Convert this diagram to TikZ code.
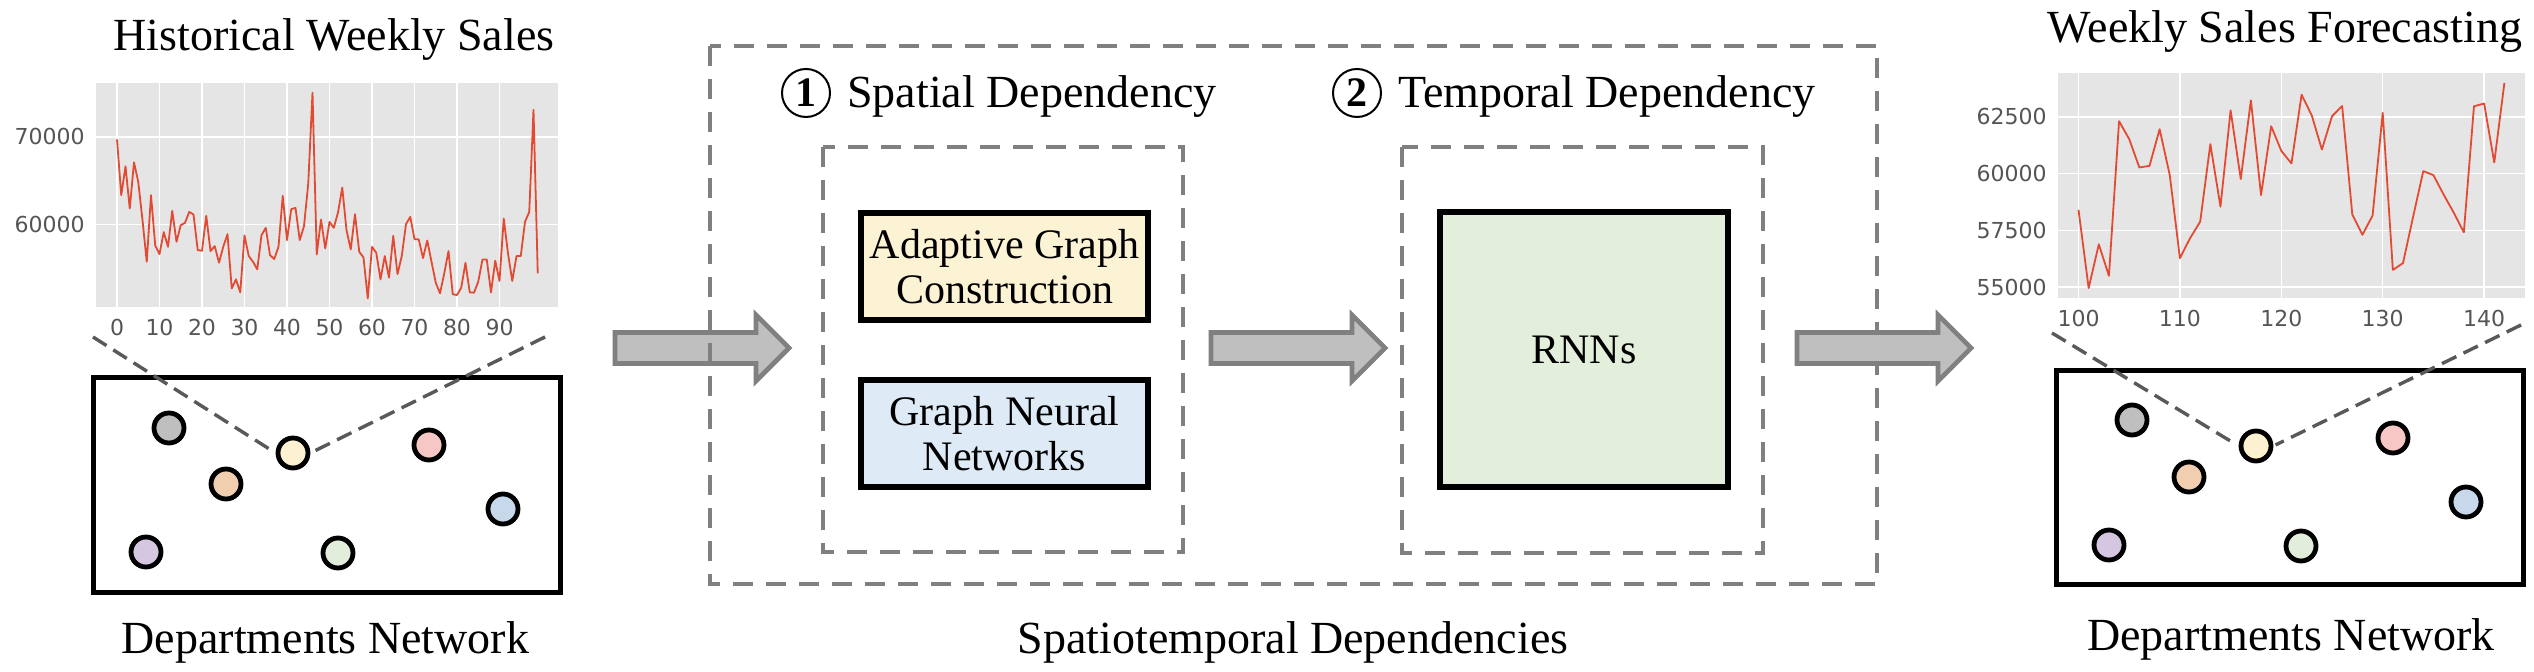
\documentclass[tikz,border=0pt]{standalone}
\usepackage{fontspec}
\setmainfont{Liberation Serif}
\newfontfamily\tickfont{DejaVu Sans}
\usetikzlibrary{positioning}
\definecolor{plotbg}{HTML}{E5E5E5}
\definecolor{salesred}{HTML}{E24A33}
\definecolor{tickgray}{HTML}{555555}
\definecolor{boxgray}{HTML}{808080}
\definecolor{zoomgray}{HTML}{595959}
\definecolor{arrowfill}{HTML}{BFBFBF}
\definecolor{dgray}{HTML}{BFBFBF}
\definecolor{dorange}{HTML}{F2CEB0}
\definecolor{dyellow}{HTML}{FCF2D2}
\definecolor{dred}{HTML}{F6C7C4}
\definecolor{dblue}{HTML}{C8D8EB}
\definecolor{dpurple}{HTML}{D5C7E1}
\definecolor{dgreen}{HTML}{E3EDDB}
\definecolor{agcfill}{HTML}{FCF2D4}
\definecolor{gnnfill}{HTML}{DEEAF5}
\definecolor{rnnfill}{HTML}{E3EFDA}

\begin{document}
\begin{tikzpicture}[x=0.5pt,y=-0.5pt,
   title/.style={font=\fontsize{23}{27}\selectfont,inner sep=0pt},
   tick/.style={font=\tickfont\fontsize{11}{13}\selectfont,text=tickgray,inner sep=0pt},
   grid/.style={white,line width=0.75pt},
   sales/.style={salesred,line width=0.9pt,line join=round},
   dept/.style={circle,draw=black,line width=2.4pt,minimum size=15pt,inner sep=0pt},
   netbox/.style={draw=black,line width=2.5pt},
   zoomline/.style={zoomgray,line width=1.7pt,dash pattern=on 8pt off 4pt,shorten >=1.2pt},
   dashbox/.style={boxgray,line width=2.4pt,dash pattern=on 10pt off 6.5pt},
   block/.style={draw=black,line width=2.8pt,inner sep=0pt,align=center,font=\fontsize{21}{22.5}\selectfont},
   stepnum/.style={circle,draw=black,line width=1pt,minimum size=24pt,inner sep=0pt,font=\fontsize{21}{22}\selectfont\bfseries},
   fatarrow/.pic={\draw[boxgray,fill=arrowfill,line width=2.3pt,line join=miter]
      (1,-15.5) -- (142,-15.5) -- (142,-33) -- (175,0) -- (142,33) -- (142,15.5) -- (1,15.5) -- cycle;}]
   \useasboundingbox (0,0) rectangle (2534,672);

   \node[title,anchor=base] (histtitle) at (334,51) {Historical Weekly Sales};
   \fill[plotbg] (96,83) rectangle (558,307);
   \foreach \k in {0,...,9} \draw[grid] ({117+42.5*\k},83) -- ({117+42.5*\k},307);
   \draw[grid] (96,137) -- (558,137);
   \draw[grid] (96,224.5) -- (558,224.5);
   \begin{scope}[shift={(117,749.5)},xscale=4.25,yscale=-8.75]
      \draw[sales] plot coordinates {(0,69.73) (1,63.35) (2,66.65) (3,61.83) (4,67.10) (5,64.87) (6,60.50) (7,55.74) (8,63.35) (9,57.57) (10,56.62) (11,59.13) (12,57.45) (13,61.56) (14,58.02) (15,59.92) (16,60.19) (17,61.44) (18,61.14) (19,57.07) (20,57.00) (21,60.99) (22,56.96) (23,57.53) (24,55.63) (25,57.45) (26,58.90) (27,52.70) (28,53.73) (29,52.24) (30,58.75) (31,56.39) (32,55.74) (33,54.87) (34,58.78) (35,59.62) (36,56.50) (37,56.05) (38,57.45) (39,63.27) (40,58.21) (41,61.75) (42,61.90) (43,58.21) (44,59.81) (45,64.68) (46,75.06) (47,56.58) (48,60.57) (49,57.26) (50,60.30) (51,59.62) (52,61.37) (53,64.22) (54,59.35) (55,57.15) (56,61.18) (57,56.88) (58,56.24) (59,51.56) (60,57.45) (61,56.77) (62,53.73) (63,56.39) (64,53.92) (65,58.71) (66,54.33) (67,56.39) (68,60.04) (69,60.87) (70,58.33) (71,58.29) (72,56.16) (73,58.17) (74,55.74) (75,53.35) (76,52.13) (77,54.41) (78,56.96) (79,52.02) (80,51.94) (81,52.78) (82,55.63) (83,52.24) (84,52.21) (85,53.46) (86,56.01) (87,56.01) (88,52.24) (89,55.86) (90,53.54) (91,60.68) (92,56.69) (93,53.54) (94,56.39) (95,56.39) (96,60.30) (97,61.44) (98,73.12) (99,54.41)};
   \end{scope}
   \node[tick,anchor=east] (hy70) at (85,137) {70000};
   \node[tick,anchor=east] (hy60) at (85,224.5) {60000};
   \foreach \k in {0,...,9} \node[tick] (hx\k) at ({117+42.5*\k},327.5) {\the\numexpr\k*10\relax};

   \node[netbox,minimum width=233.5pt,minimum height=107.5pt] (histnet) at (326.5,485) {};
   \coordinate (hcornerL) at (93,337);
   \coordinate (hcornerR) at (545,337);
   \node[dept,fill=dyellow] (hyellow) at (293,453) {};
   \node[dept,fill=dgray] (hgray) at (169,428) {};
   \node[dept,fill=dorange] (horange) at (226,484) {};
   \node[dept,fill=dred] (hred) at (429,445) {};
   \node[dept,fill=dblue] (hblue) at (503,509) {};
   \node[dept,fill=dpurple] (hpurple) at (146,552) {};
   \node[dept,fill=dgreen] (hgreen) at (338,553) {};
   \draw[zoomline] (hcornerL) -- (hyellow.west);
   \draw[zoomline] (hcornerR) -- (hyellow.east);
   \node[title,anchor=base] (histlabel) at (325.5,654) {Departments Network};

   \pic at (614,348) {fatarrow};

   \draw[dashbox] (710,46) rectangle (1877,584);
   \node[stepnum] (numA) at (806,93) {1};
   \node[title,anchor=base west] (spatlabel) at (847,108) {Spatial Dependency};
   \node[stepnum] (numB) at (1357,93) {2};
   \node[title,anchor=base west] (templabel) at (1398,108) {Temporal Dependency};
   \draw[dashbox] (823,147) rectangle (1183,552);
   \draw[dashbox] (1402,147) rectangle (1763,553);
   \node[block,fill=agcfill,minimum width=143.5pt,minimum height=53.5pt] (agc) at (1004.5,266.5) {Adaptive Graph\\Construction};
   \node[block,fill=gnnfill,minimum width=143.5pt,minimum height=53.5pt] (gnn) at (1004.5,433.5) {Graph Neural\\Networks};
   \pic at (1210,348) {fatarrow};
   \node[block,fill=rnnfill,minimum width=144pt,minimum height=137.5pt] (rnn) at (1584,349.5) {RNNs};
   \node[title,anchor=base] (stlabel) at (1293,654) {Spatiotemporal Dependencies};

   \pic at (1796,348) {fatarrow};

   \node[title,anchor=base] (predtitle) at (2285,43) {Weekly Sales Forecasting};
   \fill[plotbg] (2058,73) rectangle (2525,298);
   \foreach \k in {0,...,4} \draw[grid] ({2078.5+101.4*\k},73) -- ({2078.5+101.4*\k},298);
   \foreach \k in {0,...,3} \draw[grid] (2058,{117+56.67*\k}) -- (2525,{117+56.67*\k});
   \begin{scope}[shift={(2078.5,1533.8)},xscale=10.14,yscale=-22.67]
      \draw[sales] plot coordinates {(0,58.40) (1,54.95) (2,56.88) (3,55.49) (4,62.31) (5,61.52) (6,60.27) (7,60.34) (8,61.96) (9,59.93) (10,56.27) (11,57.15) (12,57.88) (13,61.30) (14,58.54) (15,62.79) (16,59.76) (17,63.23) (18,59.05) (19,62.09) (20,61.00) (21,60.45) (22,63.48) (23,62.57) (24,61.06) (25,62.53) (26,62.98) (27,58.20) (28,57.30) (29,58.15) (30,62.68) (31,55.75) (32,56.05) (33,58.10) (34,60.11) (35,59.93) (36,59.08) (37,58.28) (38,57.41) (39,62.97) (40,63.09) (41,60.49) (42,64.00)};
   \end{scope}
   \node[tick,anchor=east] (py625) at (2047,117) {62500};
   \node[tick,anchor=east] (py600) at (2047,173.7) {60000};
   \node[tick,anchor=east] (py575) at (2047,230.3) {57500};
   \node[tick,anchor=east] (py550) at (2047,287) {55000};
   \foreach \k in {0,...,4} \node[tick] (px\k) at ({2078.5+101.4*\k},318) {\the\numexpr100+\k*10\relax};

   \node[netbox,minimum width=233.5pt,minimum height=107pt] (prednet) at (2289.5,478) {};
   \coordinate (pcornerL) at (2052,333);
   \coordinate (pcornerR) at (2521,325);
   \node[dept,fill=dyellow] (pyellow) at (2256,446) {};
   \node[dept,fill=dgray] (pgray) at (2132,420) {};
   \node[dept,fill=dorange] (porange) at (2189,477) {};
   \node[dept,fill=dred] (pred) at (2393,438) {};
   \node[dept,fill=dblue] (pblue) at (2466,502) {};
   \node[dept,fill=dpurple] (ppurple) at (2109,545) {};
   \node[dept,fill=dgreen] (pgreen) at (2301,546) {};
   \draw[zoomline] (pcornerL) -- (pyellow.west);
   \draw[zoomline] (pcornerR) -- (pyellow.east);
   \node[title,anchor=base] (predlabel) at (2291,651) {Departments Network};
\end{tikzpicture}
\end{document}
